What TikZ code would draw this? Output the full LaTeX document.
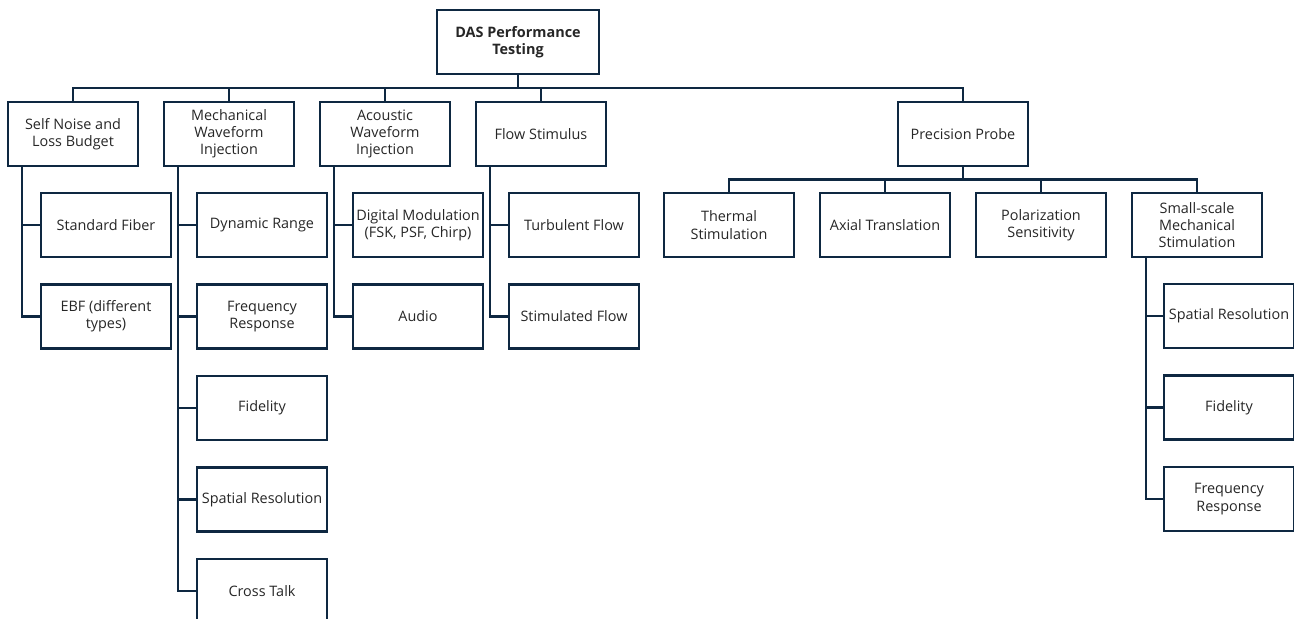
\documentclass[tikz,border=0pt]{standalone}
\usepackage{fontspec}
\setmainfont{Open Sans}
\usetikzlibrary{positioning}
\definecolor{navy}{HTML}{0E2841}
\tikzset{
    %Define style for boxes
    topic/.style={
           rectangle,
           draw=navy, line width=1.3pt,
           outer sep=0pt,
           minimum width=2.6cm,
           minimum height=1.28cm,
           inner sep=1pt,
           align=center,
           font=\fontsize{8.2}{9.8}\selectfont,
           text=black!85},
    headbox/.style={
           topic,
           minimum width=3.24cm,
           font=\bfseries\fontsize{8.2}{9.8}\selectfont},
    % Define connector style
    wire/.style={
           draw=navy,
           line width=1.3pt}
}
\begin{document}
\begin{tikzpicture}[node distance=0.52cm]
\useasboundingbox (0,0) rectangle (25.88,-12.38);
% top levels
\node[headbox] (das) at (10.36,-0.84) {DAS Performance\\Testing};
\node[topic] (snl) at (1.46,-2.68) {Self Noise and\\Loss Budget};
\node[topic, right=of snl] (mwi) {Mechanical\\Waveform\\Injection};
\node[topic, right=of mwi] (awi) {Acoustic\\Waveform\\Injection};
\node[topic, right=of awi] (flow) {Flow Stimulus};
\node[topic, right=5.84cm of flow] (probe) {Precision Probe};
% self noise
\node[topic, below right=0.54cm and 0.66cm of snl.south west] (stdf) {Standard Fiber};
\node[topic, below=0.55cm of stdf] (ebf) {EBF (different\\types)};
% mechanical
\node[topic, below right=0.54cm and 0.66cm of mwi.south west] (dyn) {Dynamic Range};
\node[topic, below=0.55cm of dyn] (freq) {Frequency\\Response};
\node[topic, below=0.55cm of freq] (fid) {Fidelity};
\node[topic, below=0.55cm of fid] (spat) {Spatial Resolution};
\node[topic, below=0.55cm of spat] (xtalk) {Cross Talk};
% acoustic
\node[topic, below right=0.54cm and 0.66cm of awi.south west] (dmod) {Digital Modulation\\(FSK, PSF, Chirp)};
\node[topic, below=0.55cm of dmod] (audio) {Audio};
% flow
\node[topic, below right=0.54cm and 0.66cm of flow.south west] (turb) {Turbulent Flow};
\node[topic, below=0.55cm of turb] (stim) {Stimulated Flow};
% probe
\node[topic, below left=0.54cm and 0.26cm of probe.south] (axial) {Axial Translation};
\node[topic, below right=0.54cm and 0.26cm of probe.south] (polar) {Polarization\\Sensitivity};
\node[topic, left=of axial] (therm) {Thermal\\Stimulation};
\node[topic, right=of polar] (small) {Small-scale\\Mechanical\\Stimulation};
\node[topic, below right=0.54cm and 0.64cm of small.south west] (sspat) {Spatial Resolution};
\node[topic, below=0.55cm of sspat] (sfid) {Fidelity};
\node[topic, below=0.55cm of sfid] (sfreq) {Frequency\\Response};
% connectors
\foreach \c in {snl,mwi,awi,flow,probe}
  \draw[wire] (das.south) -- ++(0,-0.28) -| (\c.north);
\foreach \c in {therm,axial,polar,small}
  \draw[wire] (probe.south) -- ++(0,-0.27) -| (\c.north);
\foreach \p/\c in {snl/stdf,snl/ebf,mwi/dyn,mwi/freq,mwi/fid,mwi/spat,mwi/xtalk,
    awi/dmod,awi/audio,flow/turb,flow/stim,small/sspat,small/sfid,small/sfreq}
  \draw[wire] ([xshift=0.28cm]\p.south west) |- (\c.west);
\end{tikzpicture}
\end{document}
